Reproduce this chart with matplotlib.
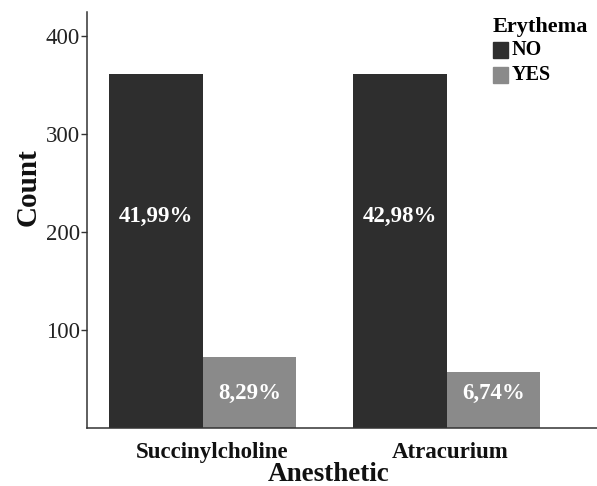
import numpy as np
import matplotlib
matplotlib.use("Agg")
from matplotlib import pyplot as plt
from matplotlib.patches import Patch
from matplotlib.transforms import ScaledTranslation

plt.rcParams['font.family'] = ['Liberation Serif', 'DejaVu Serif']

anesthetics = ['Succinylcholine', 'Atracurium']
no_counts = [362, 362]
yes_counts = [73, 57]
no_labels = ['41,99%', '42,98%']
yes_labels = ['8,29%', '6,74%']
no_label_y = [216, 216]
yes_label_y = [35, 35]

c_no = '#2e2e2e'
c_yes = '#8a8a8a'

fig = plt.figure(figsize=(5.97, 4.86), dpi=100)
ax = fig.add_axes([0.1457, 0.1193, 0.8543, 0.856])

x = np.arange(1, len(anesthetics) + 1)
w = 0.383
ax.bar(x - w / 2, no_counts, w, color=c_no, edgecolor='none')
ax.bar(x + w / 2, yes_counts, w, color=c_yes, edgecolor='none')

for i in range(len(x)):
    ax.text(x[i] - w / 2, no_label_y[i], no_labels[i], color='white', fontsize=16.5,
            fontweight='bold', ha='center', va='center')
    ax.text(x[i] + w / 2, yes_label_y[i], yes_labels[i], color='white', fontsize=16.5,
            fontweight='bold', ha='center', va='center')

ax.set_xlim(0.525, 2.615)
ax.set_ylim(0, 425)
ax.set_yticks([100, 200, 300, 400])
ax.tick_params(axis='y', labelsize=16.5, length=4, width=1, colors='#333333',
               labelcolor='#222222', pad=1)
ax.set_xticks(x)
ax.set_xticklabels(anesthetics, fontsize=16.5, fontweight='bold', color='#111111')
ax.tick_params(axis='x', length=0, pad=10)
# the category labels sit a little right of the bar-pair centres in the original
for lab, dx in zip(ax.get_xticklabels(), [0.09, 0.03]):
    lab.set_transform(lab.get_transform() + ScaledTranslation(dx, 0, fig.dpi_scale_trans))

for s in ['top', 'right']:
    ax.spines[s].set_visible(False)
for s in ['left', 'bottom']:
    ax.spines[s].set_color('#333333')
    ax.spines[s].set_linewidth(1.1)

fig.text(0.551, 0.024, 'Anesthetic', fontsize=19.5, fontweight='bold', ha='center',
         va='center', color='#111111')
fig.text(0.047, 0.615, 'Count', fontsize=21, fontweight='bold', ha='center',
         va='center', rotation=90, color='#111111')

handles = [Patch(color=c_no, label='NO'), Patch(color=c_yes, label='YES')]
leg = fig.legend(handles=handles, title='Erythema', loc='upper left',
                 bbox_to_anchor=(0.811, 0.982), frameon=False, handlelength=1.1,
                 handleheight=1.4, handletextpad=0.25, labelspacing=0.35,
                 borderaxespad=0.2, alignment='left')
leg._legend_box.sep = 2
plt.setp(leg.get_title(), fontweight='bold', fontsize=16)
for t in leg.get_texts():
    t.set_fontweight('bold')
    t.set_fontsize(14.5)

fig.savefig('out.png', dpi=100)
